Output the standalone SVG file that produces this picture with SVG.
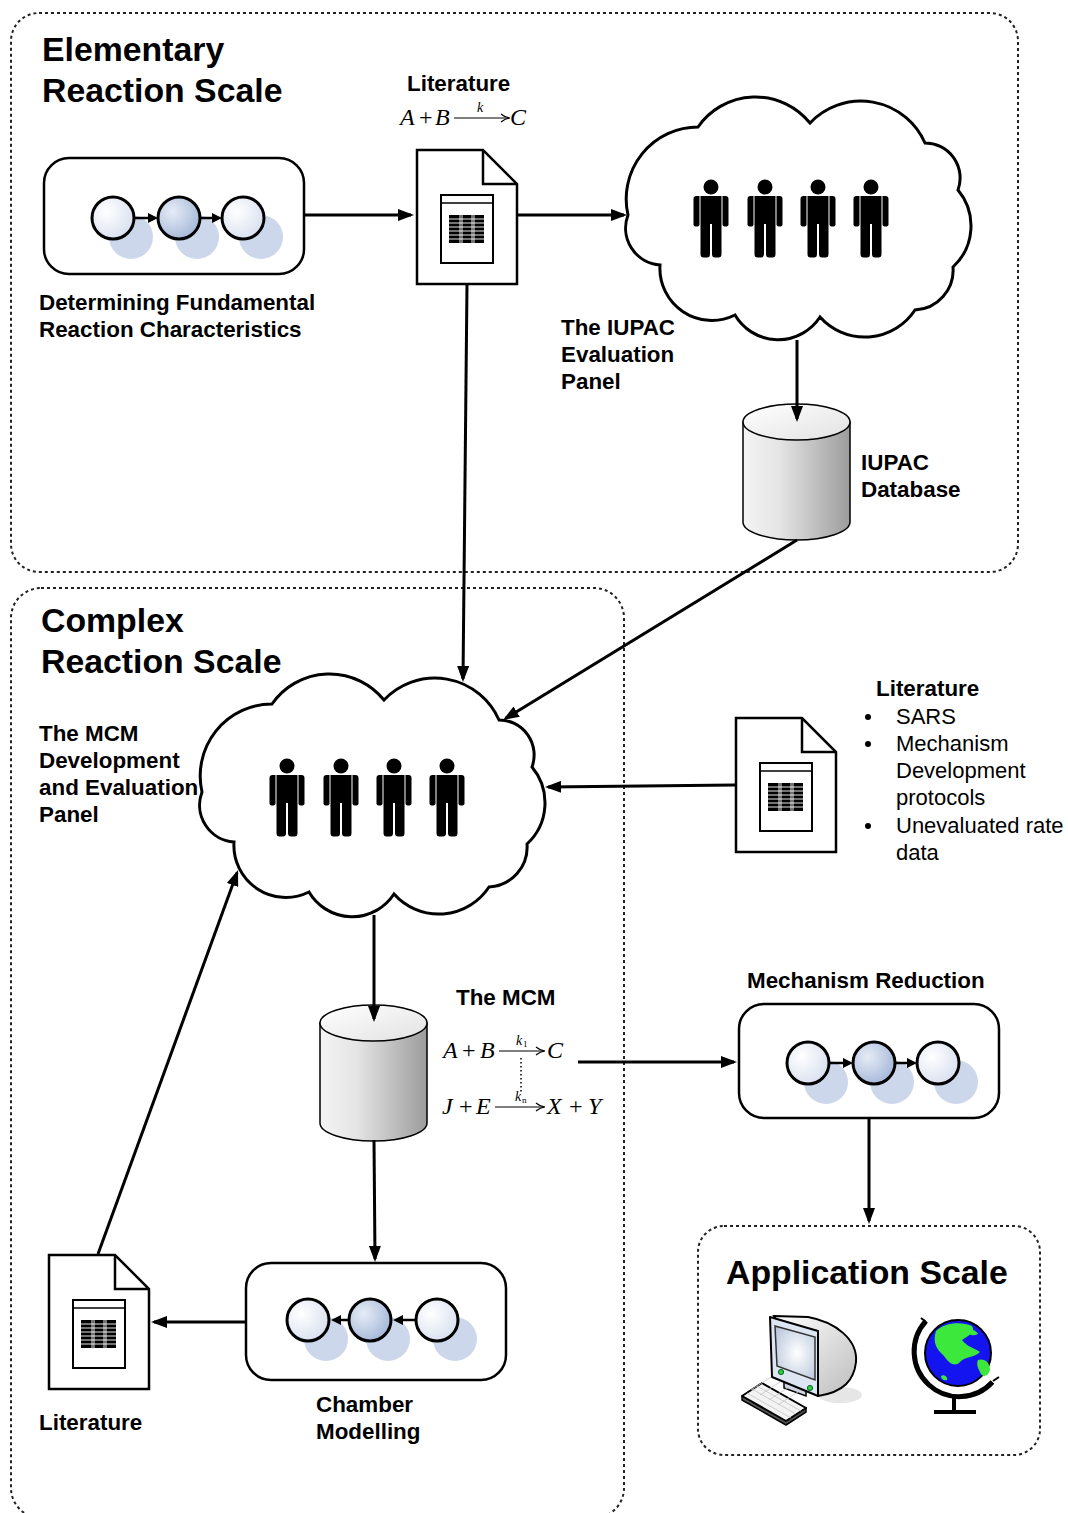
<svg xmlns="http://www.w3.org/2000/svg" xmlns:xlink="http://www.w3.org/1999/xlink" width="1068" height="1513" viewBox="0 0 1068 1513">
  <style>
    .title { font: bold 33.8px "Liberation Sans", Arial, sans-serif; fill: #000; }
    .lbl { font: bold 22.4px "Liberation Sans", Arial, sans-serif; fill: #000; }
    .txt { font: 22px "Liberation Sans", Arial, sans-serif; fill: #000; }
    .math { font: italic 24px "Liberation Serif", "Times New Roman", serif; fill: #000; }
    .op { font-style: normal; }
    .sub { font: italic 14px "Liberation Serif", "Times New Roman", serif; fill: #000; }
    .tiny { font: 9px "Liberation Serif", "Times New Roman", serif; fill: #000; }
    .scale { fill: none; stroke: #222; stroke-width: 2; stroke-dasharray: 3 3; }
    .edge { fill: none; stroke: #000; stroke-width: 3; marker-end: url(#arrow); }
    .cloud { fill: #fff; stroke: #000; stroke-width: 3; }
    .box { fill: #fff; stroke: #000; stroke-width: 2.5; }
    .mathArrow { fill: none; stroke: #000; stroke-width: 1.2; }
  </style>
  <defs>
    <marker id="arrow" viewBox="0 0 16 12" markerWidth="16" markerHeight="12" refX="13" refY="6" orient="auto" markerUnits="userSpaceOnUse">
      <path d="M0 0 L16 6 L0 12 Z" fill="#000"/>
    </marker>
    <radialGradient id="ballLight" cx="0.35" cy="0.35" r="0.75">
      <stop offset="0" stop-color="#ffffff"/>
      <stop offset="1" stop-color="#d6deee"/>
    </radialGradient>
    <radialGradient id="ballDark" cx="0.35" cy="0.35" r="0.75">
      <stop offset="0" stop-color="#e6ecf6"/>
      <stop offset="1" stop-color="#a0b4d6"/>
    </radialGradient>
    <linearGradient id="cylSide" x1="0" y1="0" x2="1" y2="0">
      <stop offset="0" stop-color="#f4f4f4"/>
      <stop offset="0.35" stop-color="#e4e4e4"/>
      <stop offset="1" stop-color="#9c9c9c"/>
    </linearGradient>
    <linearGradient id="cylTop" x1="0" y1="0" x2="1" y2="1">
      <stop offset="0" stop-color="#ffffff"/>
      <stop offset="1" stop-color="#e2e2e2"/>
    </linearGradient>
    <linearGradient id="crtBack" x1="0" y1="0" x2="1" y2="1">
      <stop offset="0" stop-color="#ffffff"/>
      <stop offset="1" stop-color="#bdbdbd"/>
    </linearGradient>
    <radialGradient id="crtScreen" cx="0.55" cy="0.5" r="0.7">
      <stop offset="0" stop-color="#ffffff"/>
      <stop offset="1" stop-color="#b4c3da"/>
    </radialGradient>

    <!-- cloud outline, about 347 x 245 -->
    <path id="cloudShape" d="M3 120 A72 72 0 0 1 73 32 A70 70 0 0 1 185 28 A70 70 0 0 1 300 48 A35 35 0 0 1 333 95 A56 56 0 0 1 328 172 A40 40 0 0 1 290 215 A60 60 0 0 1 195 222 A50 50 0 0 1 110 220 A52 52 0 0 1 35 170 A37 37 0 0 1 3 120 Z"/>

    <!-- standing figure, head centre at origin -->
    <g id="person" fill="#000">
      <circle cx="0" cy="0" r="7.5"/>
      <path d="M-10.5 9 H10.5 V67 Q10.5 70.5 7.5 70.5 H4 Q1 70.5 1 67 V37 H-1 V67 Q-1 70.5 -4 70.5 H-7.5 Q-10.5 70.5 -10.5 67 Z"/>
      <path d="M-17.5 12 Q-17.5 9 -14.5 9 H-11.5 V37.5 Q-11.5 39.5 -13.5 39.5 H-15.5 Q-17.5 39.5 -17.5 37.5 Z"/>
      <path d="M17.5 12 Q17.5 9 14.5 9 H11.5 V37.5 Q11.5 39.5 13.5 39.5 H15.5 Q17.5 39.5 17.5 37.5 Z"/>
    </g>

    <!-- panel of four figures -->
    <g id="panel">
      <use xlink:href="#person" x="0" y="0"/>
      <use xlink:href="#person" x="54" y="0"/>
      <use xlink:href="#person" x="107" y="0"/>
      <use xlink:href="#person" x="160" y="0"/>
    </g>

    <!-- literature document, 102 x 136 -->
    <g id="doc">
      <path d="M1 1 H67 L101 35 V135 H1 Z" fill="#fff" stroke="#000" stroke-width="2.5" stroke-linejoin="miter"/>
      <path d="M67 1 V35 H101" fill="none" stroke="#000" stroke-width="2.5"/>
      <rect x="25" y="46" width="52" height="68" fill="#fff" stroke="#000" stroke-width="2"/>
      <line x1="25" y1="54" x2="77" y2="54" stroke="#000" stroke-width="1.5"/>
      <rect x="33" y="66" width="35" height="28" fill="#000"/>
      <g stroke="#fff" stroke-width="0.9">
        <line x1="33" y1="70" x2="68" y2="70"/>
        <line x1="33" y1="74" x2="68" y2="74"/>
        <line x1="33" y1="78" x2="68" y2="78"/>
        <line x1="33" y1="82" x2="68" y2="82"/>
        <line x1="33" y1="86" x2="68" y2="86"/>
        <line x1="33" y1="90" x2="68" y2="90"/>
        <line x1="44" y1="66" x2="44" y2="94"/>
        <line x1="46" y1="66" x2="46" y2="94"/>
        <line x1="56" y1="66" x2="56" y2="94"/>
        <line x1="58" y1="66" x2="58" y2="94"/>
      </g>
    </g>

    <!-- database cylinder, 107 x 136 -->
    <g id="db">
      <path d="M0 18 V118 A53.5 18 0 0 0 107 118 V18 Z" fill="url(#cylSide)" stroke="#000" stroke-width="1.5"/>
      <ellipse cx="53.5" cy="18" rx="53.5" ry="18" fill="url(#cylTop)" stroke="#000" stroke-width="1.5"/>
    </g>

    <!-- three-state chain with forward steps -->
    <g id="chainFwd">
      <g fill="#cdd7ec">
        <circle cx="87" cy="79" r="22"/>
        <circle cx="153" cy="79" r="22"/>
        <circle cx="217" cy="79" r="22"/>
      </g>
      <circle cx="69" cy="60" r="21" fill="url(#ballLight)" stroke="#000" stroke-width="3"/>
      <circle cx="135" cy="60" r="21" fill="url(#ballDark)" stroke="#000" stroke-width="3"/>
      <circle cx="199" cy="60" r="21" fill="url(#ballLight)" stroke="#000" stroke-width="3"/>
      <line x1="90" y1="60" x2="106" y2="60" stroke="#000" stroke-width="2.5"/>
      <path d="M104 55 L114 60 L104 65 Z" fill="#000"/>
      <line x1="156" y1="60" x2="170" y2="60" stroke="#000" stroke-width="2.5"/>
      <path d="M168 55 L178 60 L168 65 Z" fill="#000"/>
    </g>
  </defs>

  <rect width="1068" height="1513" fill="#fff"/>

  <!-- scale frames -->
  <g id="scales">
    <rect class="scale" x="11" y="13" width="1007" height="559" rx="28"/>
    <rect class="scale" x="11" y="588" width="613" height="930" rx="30"/>
    <rect class="scale" x="698" y="1226" width="342" height="229" rx="26"/>
    <text class="title" x="42" y="61">Elementary</text>
    <text class="title" x="42" y="102">Reaction Scale</text>
    <text class="title" x="41" y="632">Complex</text>
    <text class="title" x="41" y="673">Reaction Scale</text>
    <text class="title" x="726" y="1284">Application Scale</text>
  </g>

  <!-- elementary scale -->
  <g id="fundamental">
    <rect class="box" x="44" y="158" width="260" height="116" rx="25"/>
    <use xlink:href="#chainFwd" x="44" y="158"/>
    <text class="lbl" x="39" y="310">Determining Fundamental</text>
    <text class="lbl" x="39" y="337">Reaction Characteristics</text>
  </g>

  <g id="literature-top">
    <use xlink:href="#doc" x="416" y="149"/>
    <text class="lbl" x="407" y="91">Literature</text>
    <text class="math" x="400" y="125">A</text>
    <text class="math op" x="419" y="125">+</text>
    <text class="math" x="435" y="125">B</text>
    <line class="mathArrow" x1="454" y1="118" x2="509" y2="118"/>
    <path class="mathArrow" d="M501 114 Q505 117.5 510 118 Q505 118.5 501 122"/>
    <text class="sub" x="477" y="112">k</text>
    <text class="math" x="510" y="125">C</text>
  </g>

  <g id="iupac-panel">
    <use xlink:href="#cloudShape" class="cloud" x="625" y="95"/>
    <use xlink:href="#panel" x="711" y="187"/>
    <text class="lbl" x="561" y="335">The IUPAC</text>
    <text class="lbl" x="561" y="362">Evaluation</text>
    <text class="lbl" x="561" y="389">Panel</text>
  </g>

  <g id="iupac-db">
    <use xlink:href="#db" x="743" y="404"/>
    <text class="lbl" x="861" y="470">IUPAC</text>
    <text class="lbl" x="861" y="497">Database</text>
  </g>

  <!-- complex scale -->
  <g id="mcm-panel">
    <use xlink:href="#cloudShape" class="cloud" x="199" y="672"/>
    <use xlink:href="#panel" x="287" y="766"/>
    <text class="lbl" x="39" y="741">The MCM</text>
    <text class="lbl" x="39" y="768">Development</text>
    <text class="lbl" x="39" y="795">and Evaluation</text>
    <text class="lbl" x="39" y="822">Panel</text>
  </g>

  <g id="literature-right">
    <use xlink:href="#doc" x="735" y="717"/>
    <text class="lbl" x="876" y="696">Literature</text>
    <circle cx="868" cy="717" r="3" fill="#000"/>
    <circle cx="868" cy="744" r="3" fill="#000"/>
    <circle cx="868" cy="826" r="3" fill="#000"/>
    <text class="txt" x="896" y="724">SARS</text>
    <text class="txt" x="896" y="751">Mechanism</text>
    <text class="txt" x="896" y="778">Development</text>
    <text class="txt" x="896" y="805">protocols</text>
    <text class="txt" x="896" y="833">Unevaluated rate</text>
    <text class="txt" x="896" y="860">data</text>
  </g>

  <g id="mcm-db">
    <use xlink:href="#db" x="320" y="1005"/>
    <text class="lbl" x="456" y="1005">The MCM</text>
    <text class="math" x="443" y="1058">A</text>
    <text class="math op" x="462" y="1058">+</text>
    <text class="math" x="480" y="1058">B</text>
    <line class="mathArrow" x1="499" y1="1051" x2="544" y2="1051"/>
    <path class="mathArrow" d="M536 1047 Q540 1050.5 545 1051 Q540 1051.5 536 1055"/>
    <text class="sub" x="516" y="1045">k</text>
    <text class="tiny" x="523" y="1047">1</text>
    <text class="math" x="547" y="1058">C</text>
    <line x1="521" y1="1058" x2="521" y2="1092" stroke="#000" stroke-width="1.5" stroke-dasharray="1.5 2.5"/>
    <text class="math" x="442" y="1114">J</text>
    <text class="math op" x="459" y="1114">+</text>
    <text class="math" x="476" y="1114">E</text>
    <line class="mathArrow" x1="495" y1="1107" x2="544" y2="1107"/>
    <path class="mathArrow" d="M536 1103 Q540 1106.5 545 1107 Q540 1107.5 536 1111"/>
    <text class="sub" x="515" y="1101">k</text>
    <text class="tiny" x="522" y="1103">n</text>
    <text class="math" x="547" y="1114">X</text>
    <text class="math op" x="569" y="1114">+</text>
    <text class="math" x="588" y="1114">Y</text>
  </g>

  <g id="mechanism-reduction">
    <rect class="box" x="739" y="1004" width="260" height="114" rx="25"/>
    <use xlink:href="#chainFwd" x="739" y="1003"/>
    <text class="lbl" x="747" y="988">Mechanism Reduction</text>
  </g>

  <g id="chamber-modelling">
    <rect class="box" x="246" y="1263" width="260" height="117" rx="25"/>
    <g fill="#cdd7ec">
      <circle cx="326" cy="1339" r="22"/>
      <circle cx="388" cy="1339" r="22"/>
      <circle cx="455" cy="1339" r="22"/>
    </g>
    <circle cx="308" cy="1320" r="21" fill="url(#ballLight)" stroke="#000" stroke-width="3"/>
    <circle cx="370" cy="1320" r="21" fill="url(#ballDark)" stroke="#000" stroke-width="3"/>
    <circle cx="437" cy="1320" r="21" fill="url(#ballLight)" stroke="#000" stroke-width="3"/>
    <line x1="339" y1="1320" x2="349" y2="1320" stroke="#000" stroke-width="2.5"/>
    <path d="M341 1315 L331 1320 L341 1325 Z" fill="#000"/>
    <line x1="401" y1="1320" x2="416" y2="1320" stroke="#000" stroke-width="2.5"/>
    <path d="M403 1315 L393 1320 L403 1325 Z" fill="#000"/>
    <text class="lbl" x="316" y="1412">Chamber</text>
    <text class="lbl" x="316" y="1439">Modelling</text>
  </g>

  <g id="literature-bottom">
    <use xlink:href="#doc" x="48" y="1254"/>
    <text class="lbl" x="39" y="1430">Literature</text>
  </g>

  <!-- application scale icons -->
  <g id="computer">
    <ellipse cx="840" cy="1395" rx="22" ry="8" fill="#e6e6e6"/>
    <path d="M774 1316 L808 1317 C836 1322 858 1340 856 1362 C854 1380 844 1392 818 1396 Z" fill="url(#crtBack)" stroke="#000" stroke-width="2"/>
    <path d="M784 1380 L806 1388 L806 1396 L784 1388 Z" fill="#cfd6e2" stroke="#000" stroke-width="1.5"/>
    <path d="M770 1317 L818 1331 L818 1396 L772 1377 Z" fill="#dde5f2" stroke="#000" stroke-width="2" stroke-linejoin="round"/>
    <path d="M775 1326 L815 1337 L815 1380 L777 1366 Z" fill="url(#crtScreen)" stroke="#333" stroke-width="1.5"/>
    <circle cx="781" cy="1372" r="2.6" fill="#3c3" stroke="#063" stroke-width="1"/>
    <circle cx="810" cy="1388" r="2.6" fill="#3c3" stroke="#063" stroke-width="1"/>
    <path d="M742 1396 L742 1400 L786 1425 L806 1412 L806 1408 Z" fill="#555" stroke="#000" stroke-width="1.5" stroke-linejoin="round"/>
    <path d="M742 1396 L762 1383 L806 1408 L786 1421 Z" fill="#f3f3f3" stroke="#000" stroke-width="2" stroke-linejoin="round"/>
    <g stroke="#c4c4c4" stroke-width="0.8">
      <line x1="747" y1="1393" x2="791" y2="1418"/>
      <line x1="752" y1="1389" x2="796" y2="1414"/>
      <line x1="757" y1="1386" x2="801" y2="1411"/>
      <line x1="751" y1="1390" x2="771" y2="1377"/>
      <line x1="760" y1="1395" x2="780" y2="1382"/>
      <line x1="769" y1="1400" x2="789" y2="1387"/>
      <line x1="778" y1="1405" x2="798" y2="1392"/>
    </g>
  </g>

  <g id="globe">
    <circle cx="958" cy="1353" r="33" fill="#1414f0" stroke="#000" stroke-width="2"/>
    <path d="M936 1331 C944 1323 960 1321 972 1326 C976 1332 968 1336 962 1340 C966 1346 974 1348 980 1352 C974 1358 966 1356 960 1362 C954 1368 948 1362 944 1356 C938 1350 932 1344 936 1331 Z" fill="#3de83d"/>
    <path d="M978 1360 C984 1358 990 1362 990 1370 C988 1377 982 1378 980 1372 C978 1368 976 1364 978 1360 Z" fill="#3de83d"/>
    <path d="M941 1376 C944 1374 948 1377 947 1380 C944 1381 941 1379 941 1376 Z" fill="#3de83d"/>
    <path d="M966 1331 C970 1328 976 1330 978 1334 C974 1336 969 1336 966 1331 Z" fill="#3de83d"/>
    <path d="M926 1321 A45 45 0 1 0 992.5 1382" fill="none" stroke="#000" stroke-width="5"/>
    <line x1="921" y1="1318" x2="926" y2="1322" stroke="#000" stroke-width="2"/>
    <line x1="993" y1="1381" x2="999" y2="1377" stroke="#000" stroke-width="2"/>
    <line x1="954" y1="1398" x2="954" y2="1411" stroke="#000" stroke-width="4"/>
    <rect x="934" y="1410" width="42" height="4" fill="#000"/>
  </g>

  <!-- connectors -->
  <g id="connectors">
    <path class="edge" d="M304 215 H411"/>
    <path class="edge" d="M518 215 H624"/>
    <path class="edge" d="M797 340 V419"/>
    <path class="edge" d="M797 540 L505.6 718.4"/>
    <path class="edge" d="M467 284 L463 679"/>
    <path class="edge" d="M735 785 L548 787"/>
    <path class="edge" d="M374 915 V1019"/>
    <path class="edge" d="M578 1062 H734"/>
    <path class="edge" d="M869 1118 V1221"/>
    <path class="edge" d="M374 1140 L375 1259"/>
    <path class="edge" d="M246 1322 H154"/>
    <path class="edge" d="M98 1254 L237 872.8"/>
  </g>
</svg>
